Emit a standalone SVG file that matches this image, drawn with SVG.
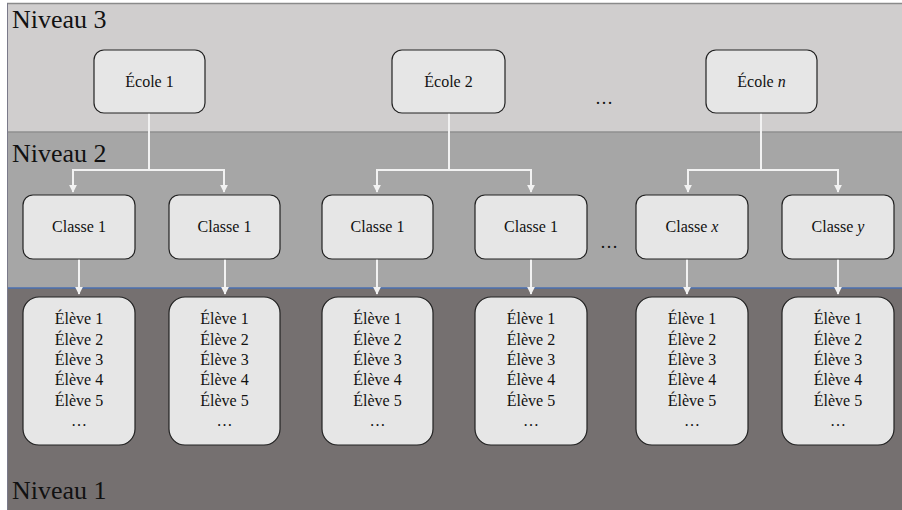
<svg xmlns="http://www.w3.org/2000/svg" width="902" height="510" viewBox="0 0 902 510">
  <defs>
    <style>
      text { font-family: "Liberation Serif", "Times New Roman", serif; fill: #111; }
      .lvl { font-size: 26px; }
      .lbl { font-size: 16px; text-anchor: middle; }
      .box { fill: #e6e6e6; stroke: #222; stroke-width: 1.2; }
      .wire { fill: none; stroke: #f2f2f2; stroke-width: 2; }
      .dots { font-size: 18px; text-anchor: middle; }
    </style>
    <marker id="arrow" viewBox="0 0 10 10" refX="9" refY="5" markerWidth="4" markerHeight="4" orient="auto" markerUnits="strokeWidth">
      <path d="M0,0 L10,5 L0,10 z" fill="#f2f2f2"/>
    </marker>
  </defs>

  <!-- level bands -->
  <g id="bands">
    <rect x="7" y="3" width="896" height="129" fill="#d0cece"/>
    <rect x="7" y="132" width="896" height="156" fill="#a6a6a6"/>
    <rect x="7" y="288" width="896" height="223" fill="#757070"/>
    <line x1="7" y1="3.5" x2="902" y2="3.5" stroke="#8a8a8a" stroke-width="1.5"/>
    <line x1="7" y1="132" x2="902" y2="132" stroke="#8f8f8f" stroke-width="1.5"/>
    <line x1="7" y1="288" x2="902" y2="288" stroke="#4a6fb0" stroke-width="1.5"/>
    <line x1="7.5" y1="3" x2="7.5" y2="510" stroke="#7a7a8a" stroke-width="1"/>
    <text class="lvl" x="12" y="28">Niveau 3</text>
    <text class="lvl" x="12" y="162">Niveau 2</text>
    <text class="lvl" x="12" y="499">Niveau 1</text>
  </g>

  <!-- connectors -->
  <g id="connectors">
    <path class="wire" d="M149,113 V170 H73 V192" marker-end="url(#arrow)"/>
    <path class="wire" d="M149,170 H224 V192" marker-end="url(#arrow)"/>
    <path class="wire" d="M449,113 V170 H377 V192" marker-end="url(#arrow)"/>
    <path class="wire" d="M449,170 H531 V192" marker-end="url(#arrow)"/>
    <path class="wire" d="M761,113 V170 H688 V192" marker-end="url(#arrow)"/>
    <path class="wire" d="M761,170 H838 V192" marker-end="url(#arrow)"/>
    <path class="wire" d="M79,259 V294" marker-end="url(#arrow)"/>
    <path class="wire" d="M225,259 V294" marker-end="url(#arrow)"/>
    <path class="wire" d="M377,259 V294" marker-end="url(#arrow)"/>
    <path class="wire" d="M531,259 V294" marker-end="url(#arrow)"/>
    <path class="wire" d="M687,259 V294" marker-end="url(#arrow)"/>
    <path class="wire" d="M838,259 V294" marker-end="url(#arrow)"/>
  </g>

  <!-- schools -->
  <g id="ecole1"><rect class="box" x="94" y="50" width="111" height="63" rx="10"/><text class="lbl" x="149.5" y="87">École 1</text></g>
  <g id="ecole2"><rect class="box" x="392" y="50" width="113" height="63" rx="10"/><text class="lbl" x="448.5" y="87">École 2</text></g>
  <g id="ecolen"><rect class="box" x="706" y="50" width="111" height="63" rx="10"/><text class="lbl" x="761.5" y="87">École <tspan font-style="italic">n</tspan></text></g>
  <text class="dots" x="604" y="104">…</text>

  <!-- classes -->
  <g id="classe1a"><rect class="box" x="23" y="195" width="112" height="64" rx="10"/><text class="lbl" x="79" y="232">Classe 1</text></g>
  <g id="classe1b"><rect class="box" x="169" y="195" width="111" height="64" rx="10"/><text class="lbl" x="224.5" y="232">Classe 1</text></g>
  <g id="classe1c"><rect class="box" x="322" y="195" width="111" height="64" rx="10"/><text class="lbl" x="377.5" y="232">Classe 1</text></g>
  <g id="classe1d"><rect class="box" x="475" y="195" width="112" height="64" rx="10"/><text class="lbl" x="531" y="232">Classe 1</text></g>
  <g id="classex"><rect class="box" x="636" y="195" width="112" height="64" rx="10"/><text class="lbl" x="692" y="232">Classe <tspan font-style="italic">x</tspan></text></g>
  <g id="classey"><rect class="box" x="782" y="195" width="112" height="64" rx="10"/><text class="lbl" x="838" y="232">Classe <tspan font-style="italic">y</tspan></text></g>
  <text class="dots" x="609" y="248">…</text>

  <!-- pupils -->
  <g id="eleves1">
    <rect class="box" x="23" y="297" width="112" height="148" rx="16"/>
    <text class="lbl" x="79" y="324">Élève 1</text><text class="lbl" x="79" y="345">Élève 2</text><text class="lbl" x="79" y="365">Élève 3</text><text class="lbl" x="79" y="385">Élève 4</text><text class="lbl" x="79" y="406">Élève 5</text><text class="lbl" x="79" y="426">…</text>
  </g>
  <g id="eleves2">
    <rect class="box" x="169" y="297" width="111" height="148" rx="16"/>
    <text class="lbl" x="224.5" y="324">Élève 1</text><text class="lbl" x="224.5" y="345">Élève 2</text><text class="lbl" x="224.5" y="365">Élève 3</text><text class="lbl" x="224.5" y="385">Élève 4</text><text class="lbl" x="224.5" y="406">Élève 5</text><text class="lbl" x="224.5" y="426">…</text>
  </g>
  <g id="eleves3">
    <rect class="box" x="322" y="297" width="111" height="148" rx="16"/>
    <text class="lbl" x="377.5" y="324">Élève 1</text><text class="lbl" x="377.5" y="345">Élève 2</text><text class="lbl" x="377.5" y="365">Élève 3</text><text class="lbl" x="377.5" y="385">Élève 4</text><text class="lbl" x="377.5" y="406">Élève 5</text><text class="lbl" x="377.5" y="426">…</text>
  </g>
  <g id="eleves4">
    <rect class="box" x="475" y="297" width="112" height="148" rx="16"/>
    <text class="lbl" x="531" y="324">Élève 1</text><text class="lbl" x="531" y="345">Élève 2</text><text class="lbl" x="531" y="365">Élève 3</text><text class="lbl" x="531" y="385">Élève 4</text><text class="lbl" x="531" y="406">Élève 5</text><text class="lbl" x="531" y="426">…</text>
  </g>
  <g id="eleves5">
    <rect class="box" x="636" y="297" width="112" height="148" rx="16"/>
    <text class="lbl" x="692" y="324">Élève 1</text><text class="lbl" x="692" y="345">Élève 2</text><text class="lbl" x="692" y="365">Élève 3</text><text class="lbl" x="692" y="385">Élève 4</text><text class="lbl" x="692" y="406">Élève 5</text><text class="lbl" x="692" y="426">…</text>
  </g>
  <g id="eleves6">
    <rect class="box" x="782" y="297" width="112" height="148" rx="16"/>
    <text class="lbl" x="838" y="324">Élève 1</text><text class="lbl" x="838" y="345">Élève 2</text><text class="lbl" x="838" y="365">Élève 3</text><text class="lbl" x="838" y="385">Élève 4</text><text class="lbl" x="838" y="406">Élève 5</text><text class="lbl" x="838" y="426">…</text>
  </g>
</svg>
